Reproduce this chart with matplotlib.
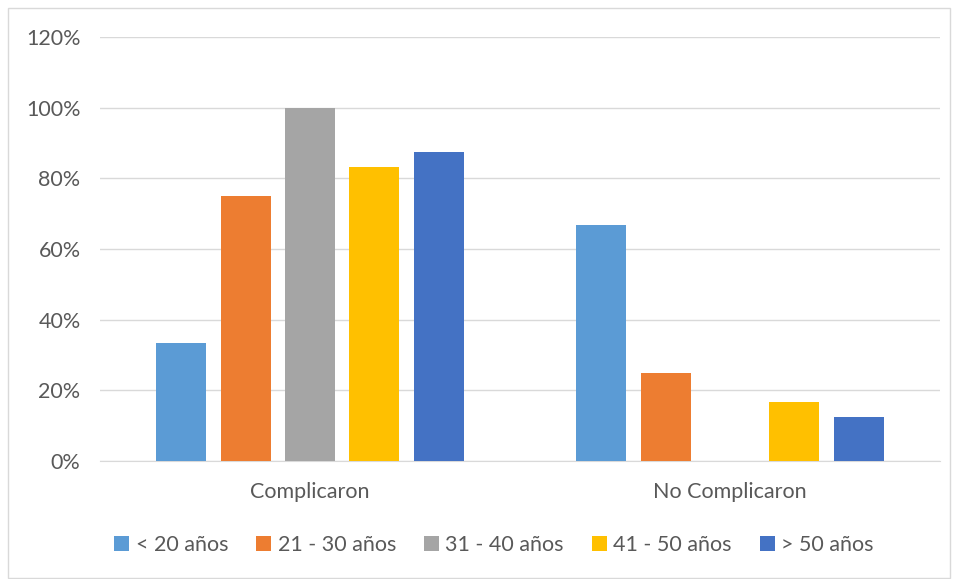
import matplotlib
matplotlib.use("Agg")
import matplotlib.pyplot as plt
from matplotlib.patches import Rectangle
from matplotlib.ticker import FuncFormatter
import numpy as np

categories = ["Complicaron", "No Complicaron"]
series_names = ["< 20 años", "21 - 30 años", "31 - 40 años", "41 - 50 años", "> 50 años"]
values = {
    "< 20 años": [33.3, 66.7],
    "21 - 30 años": [75.0, 25.0],
    "31 - 40 años": [100.0, 0.0],
    "41 - 50 años": [83.3, 16.7],
    "> 50 años": [87.5, 12.5],
}
colors = ["#5B9BD5", "#ED7D31", "#A5A5A5", "#FFC000", "#4472C4"]
yticks = [0, 20, 40, 60, 80, 100, 120]

plt.rcParams['font.family'] = ['Lato', 'DejaVu Sans']

fig = plt.figure(figsize=(9.58, 5.79), dpi=100)
fig.patches.append(Rectangle((8/958, 1-578/579), 942/958, 570/579, transform=fig.transFigure,
                             fill=False, edgecolor="#D9D9D9", linewidth=1))
ax = fig.add_axes([100/958, 1-461/579, 840/958, 424/579])

x = np.arange(len(categories))
step = 64.3/420
width = 50/420
for i, name in enumerate(series_names):
    ax.bar(x + (i-2)*step, values[name], width, color=colors[i], label=name, zorder=3)

ax.set_xlim(-0.5, 1.5)
ax.set_ylim(0, 120)
ax.set_yticks(yticks)
ax.yaxis.set_major_formatter(FuncFormatter(lambda v, p: f"{int(v)}%"))
ax.grid(axis='y', color="#D9D9D9", linewidth=1, zorder=0)
ax.set_xticks(x)
ax.set_xticklabels(categories)
for s in ["top", "right", "left"]:
    ax.spines[s].set_visible(False)
ax.spines["bottom"].set_color("#D9D9D9")
ax.tick_params(axis='both', length=0, labelsize=15.5, colors="#595959")
ax.tick_params(axis='y', pad=14)
ax.tick_params(axis='x', pad=15)

leg = fig.legend(loc='center', bbox_to_anchor=(494/958, 1-545/579), ncol=5, frameon=False,
                 fontsize=15.5, handlelength=0.7, handleheight=0.7, handletextpad=0.3, columnspacing=1.3)
for t in leg.get_texts():
    t.set_color("#595959")

fig.savefig("out.png", dpi=100)
